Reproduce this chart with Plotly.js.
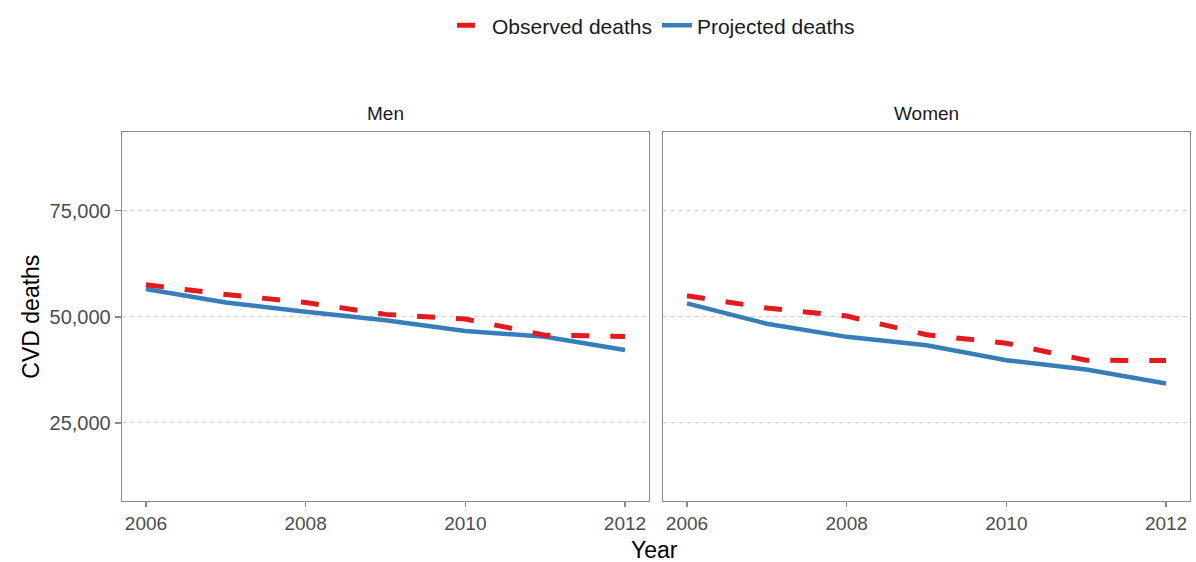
<!DOCTYPE html>
<html>
<head>
<meta charset="utf-8">
<script src="https://cdn.plot.ly/plotly-3.0.1.min.js"></script>
<style>
  html, body { margin: 0; padding: 0; background: #fff; }
  #chart { width: 1196px; height: 562px; }
</style>
</head>
<body>
<div id="chart"></div>
<script>
// values
const years = [2006, 2007, 2008, 2009, 2010, 2011, 2012];
const menObserved = [57600, 55300, 53400, 50600, 49500, 45700, 45400];
const menProjected = [56600, 53400, 51200, 49200, 46700, 45300, 42200];
const womenObserved = [55000, 52100, 50200, 45800, 43800, 39800, 39700];
const womenProjected = [53200, 48400, 45300, 43300, 39800, 37600, 34300];
const yTicks = [25000, 50000, 75000];
const yTickText = ['25,000', '50,000', '75,000'];
const xTicks = [2006, 2008, 2010, 2012];

const red = '#E41A1C';
const blue = '#377EB8';
const font = 'Liberation Sans, Arial, sans-serif';

function observed(y, xa, ya, show) {
    return {
        x: years, y: y, xaxis: xa, yaxis: ya,
        mode: 'lines', name: 'Observed deaths',
        line: { color: red, width: 5, dash: '18px,21px' },
        showlegend: show, legendrank: 1
    };
}
function projected(y, xa, ya, show) {
    return {
        x: years, y: y, xaxis: xa, yaxis: ya,
        mode: 'lines', name: 'Projected deaths',
        line: { color: blue, width: 4.5 },
        showlegend: show, legendrank: 2
    };
}

const traces = [
    projected(menProjected, 'x', 'y', true),
    observed(menObserved, 'x', 'y', true),
    projected(womenProjected, 'x2', 'y2', false),
    observed(womenObserved, 'x2', 'y2', false)
];

const xBase = {
    range: [2005.7, 2012.3],
    tickvals: xTicks,
    ticks: 'outside', ticklen: 5, tickwidth: 1.2, tickcolor: '#8a8a8a',
    tickfont: { family: font, size: 19, color: '#4d4d4d' },
    showgrid: false, zeroline: false,
    showline: true, mirror: true, linecolor: '#8a8a8a', linewidth: 1.3
};
const yBase = {
    range: [6600, 93600],
    tickvals: yTicks, ticktext: yTickText,
    showgrid: true, gridcolor: '#d2d2d2', gridwidth: 1, griddash: '4px,4px',
    zeroline: false,
    showline: true, mirror: true, linecolor: '#8a8a8a', linewidth: 1.3
};

const layout = {
    width: 1196, height: 562,
    margin: { l: 122, r: 6, t: 131, b: 61 },
    paper_bgcolor: '#fff', plot_bgcolor: '#fff',
    xaxis: Object.assign({}, xBase, { domain: [0, 0.4934], anchor: 'y' }),
    xaxis2: Object.assign({}, xBase, { domain: [0.5066, 1], anchor: 'y2' }),
    yaxis: Object.assign({}, yBase, {
        domain: [0, 1], anchor: 'x',
        ticks: 'outside', ticklen: 6, tickwidth: 1.2, tickcolor: '#8a8a8a',
        tickfont: { family: font, size: 20, color: '#4d4d4d' }
    }),
    yaxis2: Object.assign({}, yBase, {
        domain: [0, 1], anchor: 'x2', showticklabels: false, ticks: ''
    }),
    showlegend: true,
    legend: {
        orientation: 'h', x: 0.5, xanchor: 'center', y: 1.34, yanchor: 'top',
        font: { family: font, size: 21, color: '#1a1a1a' },
        traceorder: 'normal', itemwidth: 30
    },
    annotations: [
        { text: 'Men', xref: 'x domain', yref: 'paper', x: 0.5, y: 1.0, yshift: 19,
          xanchor: 'center', yanchor: 'middle',
          showarrow: false, font: { family: font, size: 19, color: '#1a1a1a' } },
        { text: 'Women', xref: 'x2 domain', yref: 'paper', x: 0.5, y: 1.0, yshift: 19,
          xanchor: 'center', yanchor: 'middle',
          showarrow: false, font: { family: font, size: 19, color: '#1a1a1a' } },
        { text: 'CVD deaths', xref: 'paper', yref: 'paper', x: -0.086, y: 0.5,
          xanchor: 'center', yanchor: 'middle',
          textangle: -90, showarrow: false, font: { family: font, size: 23, color: '#000' } },
        { text: 'Year', xref: 'paper', yref: 'paper', x: 0.499, y: 0, yshift: -49,
          xanchor: 'center', yanchor: 'middle',
          showarrow: false, font: { family: font, size: 23, color: '#000' } }
    ]
};

Plotly.newPlot('chart', traces, layout, { displayModeBar: false, staticPlot: true });
</script>
</body>
</html>
